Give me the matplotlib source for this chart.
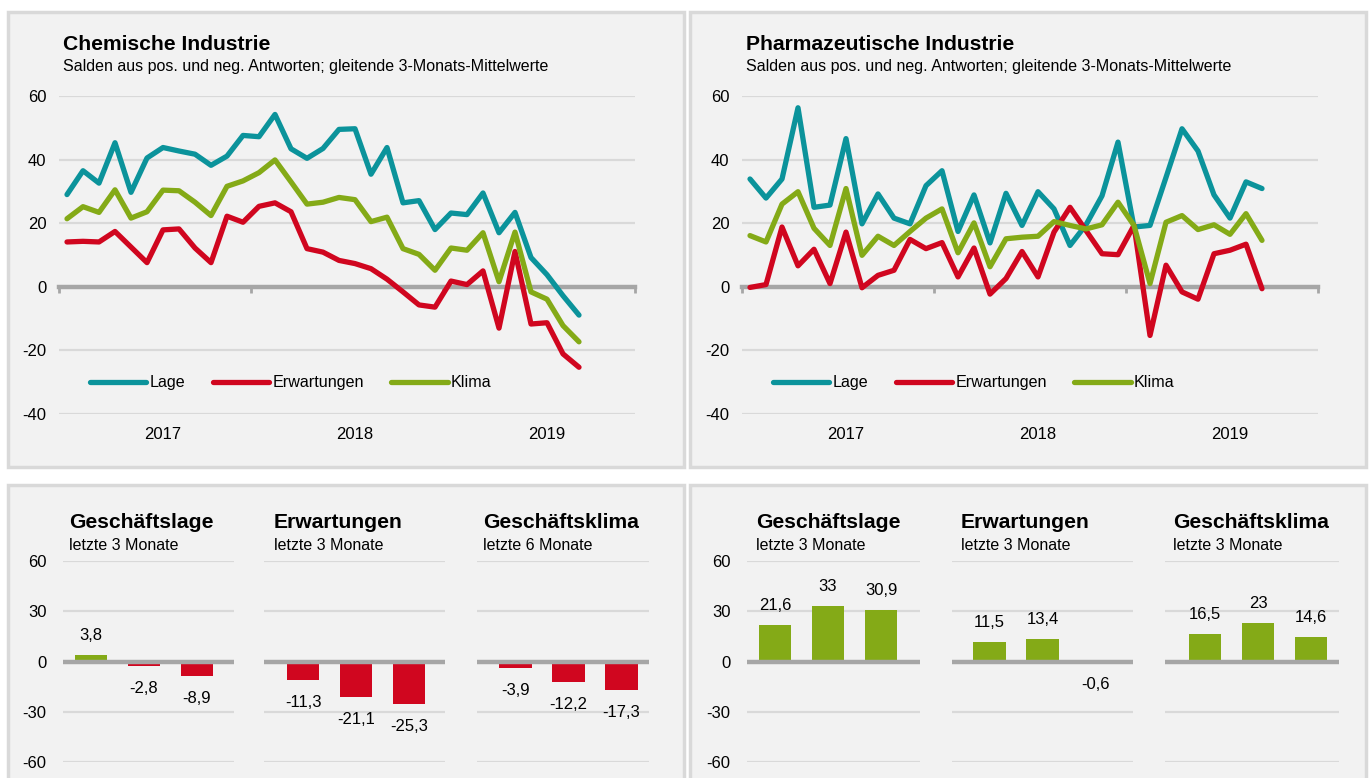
import numpy as np
import matplotlib
matplotlib.use("Agg")
import matplotlib.pyplot as plt
from matplotlib.patches import Rectangle
from matplotlib.transforms import blended_transform_factory

plt.rcParams['font.family'] = ['Liberation Sans', 'DejaVu Sans']
plt.rcParams['axes.unicode_minus'] = False

W, H = 1369, 778

# --- data (monthly, Jan 2017 - Sep 2019) ---
years = ['2017', '2018', '2019']
series_names = ['Lage', 'Erwartungen', 'Klima']

chem_lage = [29.0, 36.5, 32.6, 45.3, 29.7, 40.5, 43.8, 42.7, 41.7, 38.2, 41.1, 47.6,
             47.2, 54.2, 43.4, 40.4, 43.5, 49.5, 49.7, 35.4, 43.8, 26.4, 27.1, 18.0,
             23.2, 22.7, 29.5, 17.0, 23.4, 9.2, 3.8, -2.8, -8.9]
chem_erw = [14.1, 14.3, 14.1, 17.4, 12.5, 7.6, 17.9, 18.2, 12.2, 7.6, 22.2, 20.3,
            25.3, 26.4, 23.6, 12.0, 10.9, 8.3, 7.3, 5.7, 2.4, -1.6, -5.7, -6.4,
            1.8, 0.7, 5.0, -13.0, 11.1, -11.7, -11.3, -21.1, -25.3]
chem_klima = [21.4, 25.2, 23.4, 30.5, 21.6, 23.6, 30.4, 30.2, 26.6, 22.4, 31.6, 33.3,
              35.9, 39.9, 33.0, 26.0, 26.6, 28.1, 27.4, 20.5, 21.9, 12.0, 10.2, 5.2,
              12.2, 11.5, 17.0, 1.6, 17.2, -1.6, -3.9, -12.2, -17.3]

pharma_lage = [33.9, 27.9, 33.9, 56.3, 25.0, 25.7, 46.6, 19.8, 29.2, 21.6, 19.8, 31.8,
               36.5, 17.4, 28.9, 13.8, 29.4, 19.3, 29.9, 24.5, 13.0, 19.5, 28.6, 45.5,
               18.8, 19.3, 34.4, 49.7, 42.7, 28.9, 21.6, 33.0, 30.9]
pharma_erw = [-0.2, 0.7, 18.8, 6.6, 11.8, 1.0, 17.2, -0.3, 3.6, 5.2, 14.9, 12.0,
              13.9, 3.1, 12.2, -2.3, 2.6, 11.1, 3.1, 17.2, 25.0, 17.7, 10.4, 10.1,
              19.3, -15.3, 6.8, -1.6, -3.9, 10.4, 11.5, 13.4, -0.6]
pharma_klima = [16.1, 14.1, 26.0, 29.9, 18.4, 13.0, 30.9, 9.9, 15.9, 13.0, 17.4, 21.6,
                24.5, 10.7, 20.1, 6.3, 15.1, 15.6, 15.9, 20.5, 19.3, 18.2, 19.5, 26.6,
                19.3, 1.0, 20.3, 22.4, 18.0, 19.5, 16.5, 23.0, 14.6]

bar_titles = ['Geschäftslage', 'Erwartungen', 'Geschäftsklima']
chem_periods = ['letzte 3 Monate', 'letzte 3 Monate', 'letzte 6 Monate']
pharma_periods = ['letzte 3 Monate', 'letzte 3 Monate', 'letzte 3 Monate']
chem_bars = [[3.8, -2.8, -8.9], [-11.3, -21.1, -25.3], [-3.9, -12.2, -17.3]]
pharma_bars = [[21.6, 33.0, 30.9], [11.5, 13.4, -0.6], [16.5, 23.0, 14.6]]

subtitle = 'Salden aus pos. und neg. Antworten; gleitende 3-Monats-Mittelwerte'

TEAL = '#0b939b'
RED = '#d0061f'
GREEN = '#84aa17'
GRID = '#d9d9d9'
ZERO = '#a6a6a6'
PANEL = '#f2f2f2'

FS = 12        # normal text
FS_L = 11.6    # legend
FS_T = 15.2    # bold titles
FS_S = 11.5    # subtitles


def px_rect(x0, y0, x1, y1):
    return [x0 / W, 1 - y1 / H, (x1 - x0) / W, (y1 - y0) / H]


def fmt(v):
    if float(v).is_integer():
        return str(int(v))
    return f"{v:.1f}".replace('.', ',')


fig = plt.figure(figsize=(W / 100, H / 100), dpi=100)

# grey panel boxes
for box in [(8, 12, 684, 467), (690, 12, 1366, 467), (8, 485, 684, 800), (690, 485, 1366, 800)]:
    r = px_rect(*box)
    fig.patches.append(Rectangle((r[0], r[1]), r[2], r[3], transform=fig.transFigure,
                                 facecolor=PANEL, edgecolor=GRID, linewidth=2.5, zorder=-5))


def line_panel(x0, x1, title, lage, erw, klima):
    ax = fig.add_axes(px_rect(x0, 96, x1, 414))
    ax.set_facecolor('none')
    x = np.arange(len(lage)) + 0.5
    for v in (60, 40, 20, -20, -40):
        ax.axhline(v, color=GRID, lw=1.6, zorder=1)
    kw = dict(lw=3.8, solid_capstyle='round', solid_joinstyle='round', zorder=3)
    ax.plot(x, lage, color=TEAL, label=series_names[0], **kw)
    ax.plot(x, erw, color=RED, label=series_names[1], **kw)
    ax.plot(x, klima, color=GREEN, label=series_names[2], **kw)
    ax.set_xlim(0, 36)
    ax.set_ylim(-40, 60)
    ax.set_yticks([60, 40, 20, 0, -20, -40])
    ax.tick_params(axis='y', length=0, pad=9, labelsize=FS)
    for s in ['top', 'right', 'left']:
        ax.spines[s].set_visible(False)
    ax.spines['bottom'].set_position(('data', 0))
    ax.spines['bottom'].set_color(ZERO)
    ax.spines['bottom'].set_linewidth(3.2)
    ax.set_xticks([0, 12, 24, 36])
    ax.set_xticklabels([])
    ax.tick_params(axis='x', length=4, width=2, color=ZERO, direction='out')
    tr = blended_transform_factory(ax.transData, ax.transAxes)
    for i, yr in enumerate(years):
        ax.text(12 * i + 6.5, -0.063, yr, transform=tr, ha='center', va='center', fontsize=FS)
    ax.legend(loc='center left', bbox_to_anchor=(0.054, 0.0975), ncol=3, frameon=False,
              fontsize=FS_L, handlelength=3.5, handletextpad=0.2, columnspacing=1.7,
              borderpad=0, borderaxespad=0)
    fig.text((x0 + 4) / W, 1 - 44 / H, title, fontsize=FS_T, fontweight='bold', va='center')
    fig.text((x0 + 4) / W, 1 - 67 / H, subtitle, fontsize=FS_S, va='center')
    return ax


line_panel(59, 635, 'Chemische Industrie', chem_lage, chem_erw, chem_klima)
line_panel(742, 1318, 'Pharmazeutische Industrie', pharma_lage, pharma_erw, pharma_klima)


def bar_panel(spans, periods, values, title_xs):
    step = 53.0
    for i, ((gx0, gx1, off), vals) in enumerate(zip(spans, values)):
        ax = fig.add_axes(px_rect(gx0, 561, gx1, 762))
        ax.set_facecolor('none')
        left = -off / step
        ax.set_xlim(left, left + (gx1 - gx0) / step)
        ax.set_ylim(-60, 60)
        for v in (60, 30, -30, -60):
            ax.axhline(v, color=GRID, lw=1.6, zorder=1)
        colors = [GREEN if v >= 0 else RED for v in vals]
        ax.bar(range(len(vals)), vals, width=0.62, color=colors, zorder=2)
        ax.axhline(0, color=ZERO, lw=3.2, zorder=3)
        for k, v in enumerate(vals):
            ax.annotate(fmt(v), (k, v), xytext=(0, 14 if v >= 0 else -16),
                        textcoords='offset points', ha='center', va='center', fontsize=FS)
        for s in ax.spines.values():
            s.set_visible(False)
        ax.set_xticks([])
        if i == 0:
            ax.set_yticks([60, 30, 0, -30, -60])
            ax.tick_params(axis='y', length=0, pad=12, labelsize=FS)
        else:
            ax.set_yticks([])
        fig.text(title_xs[i] / W, 1 - 523 / H, bar_titles[i], fontsize=FS_T,
                 fontweight='bold', va='center')
        fig.text(title_xs[i] / W, 1 - 546 / H, periods[i], fontsize=FS_S, va='center')


bar_panel([(63, 234, 28), (264, 445, 39), (477, 649, 38.5)], chem_periods, chem_bars,
          [69, 274, 483])
bar_panel([(747, 920, 28), (952, 1133, 37.5), (1165, 1339, 40)], pharma_periods, pharma_bars,
          [756, 961, 1173])

fig.savefig('out.png', dpi=100, facecolor='white')
